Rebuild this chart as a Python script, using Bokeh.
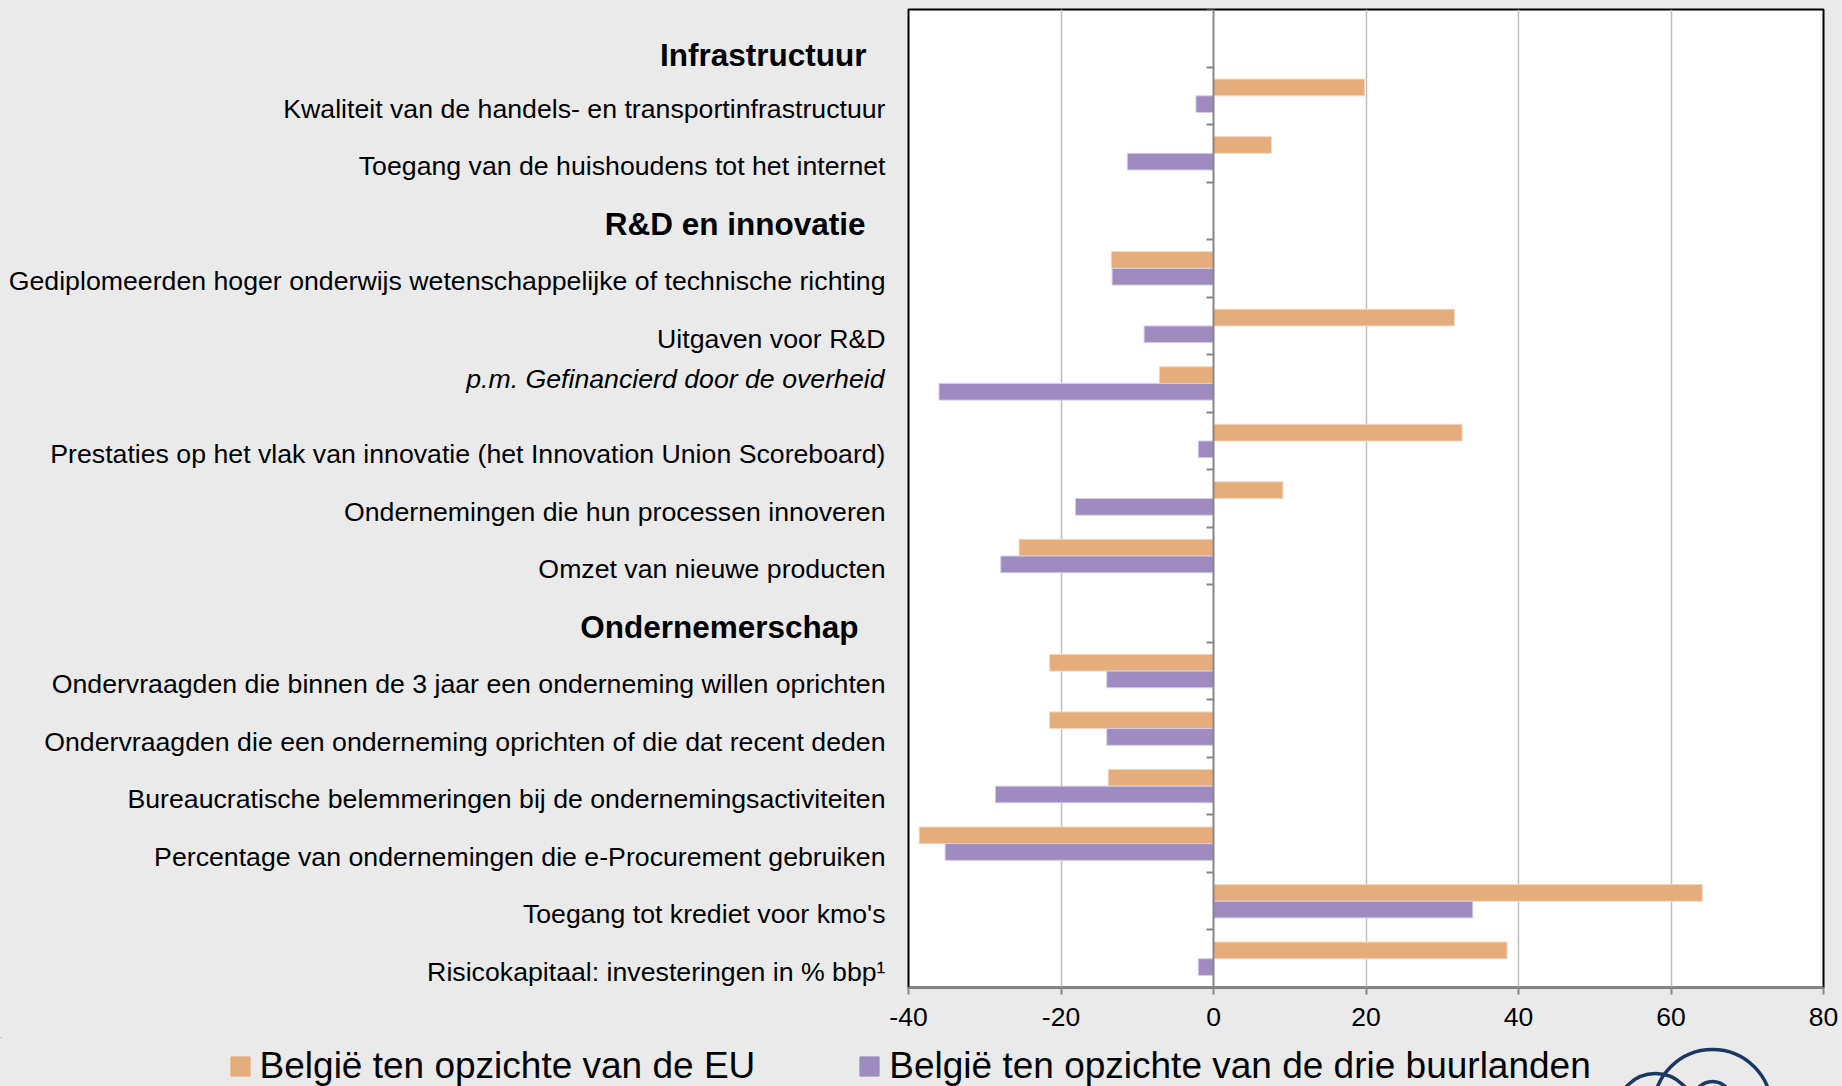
from bokeh.plotting import figure
from bokeh.layouts import column, row
from bokeh.models import (Range1d, FixedTicker, ColumnDataSource, Legend, LegendItem)
from bokeh.core.properties import value
from bokeh.transform import dodge
from bokeh.embed import file_html
from bokeh.resources import INLINE

# ---------------- data ----------------
rows = [
    "Infrastructuur",
    "Kwaliteit van de handels- en transportinfrastructuur",
    "Toegang van de huishoudens tot het internet",
    "R&D en innovatie",
    "Gediplomeerden hoger onderwijs wetenschappelijke of technische richting",
    "Uitgaven voor R&D",
    "p.m. Gefinancierd door de overheid",
    "Prestaties op het vlak van innovatie (het Innovation Union Scoreboard)",
    "Ondernemingen die hun processen innoveren",
    "Omzet van nieuwe producten",
    "Ondernemerschap",
    "Ondervraagden die binnen de 3 jaar een onderneming willen oprichten",
    "Ondervraagden die een onderneming oprichten of die dat recent deden",
    "Bureaucratische belemmeringen bij de ondernemingsactiviteiten",
    "Percentage van ondernemingen die e-Procurement gebruiken",
    "Toegang tot krediet voor kmo's",
    "Risicokapitaal: investeringen in % bbp\u00b9",
]
headers = ["Infrastructuur", "R&D en innovatie", "Ondernemerschap"]
italic_rows = ["p.m. Gefinancierd door de overheid"]
indicators = [r for r in rows if r not in headers]

eu_values = [19.8, 7.6, -13.4, 31.6, -7.1, 32.6, 9.1, -25.5, -21.5, -21.5, -13.8, -38.6, 64.1, 38.5]
nb_values = [-2.3, -11.3, -13.3, -9.1, -36.0, -2.0, -18.1, -27.9, -14.0, -14.0, -28.6, -35.2, 34.0, -2.0]

series_names = ["Belgi\u00eb ten opzichte van de EU", "Belgi\u00eb ten opzichte van de drie buurlanden"]
x_ticks = [-40, -20, 0, 20, 40, 60, 80]
x_tick_labels = ["-40", "-20", "0", "20", "40", "60", "80"]

# ---------------- styles ----------------
ORANGE = "#E4AD7B"
PURPLE = "#9E8BBF"
BG = "#EAEAEA"
AXIS_GREY = "#878787"
NAVY = "#1B3764"
FONT = "Liberation Sans"
# per-header text nudges (screen px): horizontal, vertical
header_style = {"Infrastructuur": (-20, 17), "R&D en innovatie": (-21, 13),
                "Ondernemerschap": (-28, 13)}

n = len(rows)
slot = {r: n - 0.5 - i for i, r in enumerate(rows)}   # top row first
y_range = Range1d(0, n)

TOP, FRAME_H, BOTTOM = 9, 978, 50
LABEL_W, GAP_L, FRAME_W, RIGHT = 886, 22, 915, 19
BG_STYLE = {"background-color": BG}

# ---------------- chart ----------------
p = figure(
    x_range=Range1d(x_ticks[0], x_ticks[-1]), y_range=y_range,
    frame_width=FRAME_W, frame_height=FRAME_H,
    min_border_left=GAP_L, min_border_right=RIGHT, min_border_top=TOP, min_border_bottom=BOTTOM,
    output_backend="svg", toolbar_location=None,
)
p.background_fill_color = "white"
p.border_fill_color = BG
p.outline_line_color = "black"
p.outline_line_width = 2

p.ygrid.visible = False
p.xgrid.ticker = FixedTicker(ticks=[t for t in x_ticks if t != 0])
p.xgrid.grid_line_color = "#BFBFBF"
p.xgrid.grid_line_width = 1.5

xa = p.xaxis[0]
xa.ticker = FixedTicker(ticks=x_ticks)
xa.major_label_overrides = {t: l for t, l in zip(x_ticks, x_tick_labels)}
xa.major_label_text_font = FONT
xa.major_label_text_font_size = "26.5px"
xa.major_label_text_color = "black"
xa.major_label_standoff = 13
xa.axis_line_color = AXIS_GREY
xa.axis_line_width = 2
xa.major_tick_line_color = AXIS_GREY
xa.major_tick_line_width = 2
xa.major_tick_out = 7
xa.major_tick_in = 0
xa.minor_tick_line_color = None

ya = p.yaxis[0]
ya.fixed_location = 0
ya.ticker = FixedTicker(ticks=list(range(n + 1)))
ya.major_label_overrides = {i: "" for i in range(n + 1)}
ya.major_label_standoff = 0
ya.axis_line_color = AXIS_GREY
ya.axis_line_width = 2
ya.major_tick_line_color = AXIS_GREY
ya.major_tick_line_width = 2
ya.major_tick_out = 7
ya.major_tick_in = 0
ya.minor_tick_line_color = None

src = ColumnDataSource(dict(y=[slot[r] for r in indicators], eu=eu_values, nb=nb_values))
p.hbar(y=dodge("y", 0.145), left=0, right="eu", height=0.29, source=src,
       fill_color=ORANGE, line_color="#F3D6BD", line_width=1)
p.hbar(y=dodge("y", -0.145), left=0, right="nb", height=0.29, source=src,
       fill_color=PURPLE, line_color="#D6CDE6", line_width=1)

# ---------------- row labels (left panel) ----------------
lab = figure(
    x_range=Range1d(0, 1), y_range=y_range,
    frame_width=LABEL_W, frame_height=FRAME_H,
    min_border_left=0, min_border_right=0, min_border_top=TOP, min_border_bottom=BOTTOM,
    output_backend="svg", toolbar_location=None,
    x_axis_location=None, y_axis_location=None,
)
lab.background_fill_color = BG
lab.border_fill_color = BG
lab.outline_line_color = None
lab.grid.visible = False

normal = [r for r in indicators if r not in italic_rows]
lab.text(x=1, y="y", text="t",
         source=ColumnDataSource(dict(y=[slot[r] for r in normal], t=normal)),
         x_offset=-1, y_offset=13, text_align="right", text_baseline="middle",
         text_font=value(FONT), text_font_size=value("26.7px"), text_color="black")
lab.text(x=1, y="y", text="t",
         source=ColumnDataSource(dict(y=[slot[r] for r in italic_rows], t=italic_rows)),
         x_offset=-2, y_offset=-4, text_align="right", text_baseline="middle",
         text_font=value(FONT), text_font_size=value("26.7px"), text_font_style="italic",
         text_color="black")
lab.text(x=1, y="y", text="t",
         source=ColumnDataSource(dict(y=[slot[r] for r in headers], t=headers,
                                      dx=[header_style[h][0] for h in headers],
                                      dy=[header_style[h][1] for h in headers])),
         x_offset="dx", y_offset="dy", text_align="right", text_baseline="middle",
         text_font=value(FONT), text_font_size=value("31.5px"), text_font_style="bold",
         text_color="black")

# ---------------- legend strip ----------------
LEG_W, LEG_H = LABEL_W + GAP_L + FRAME_W + RIGHT, 49
leg = figure(
    x_range=Range1d(0, LEG_W), y_range=Range1d(LEG_H, 0),
    frame_width=LEG_W, frame_height=LEG_H, min_border=0,
    output_backend="svg", toolbar_location=None,
    x_axis_location=None, y_axis_location=None,
)
leg.background_fill_color = BG
leg.border_fill_color = BG
leg.outline_line_color = None
leg.grid.visible = False
# legend keys: renderers sitting outside the visible strip, only their style is used
k_eu = leg.hbar(y=[-100], left=[0], right=[1], height=1, fill_color=ORANGE, line_color=ORANGE)
k_nb = leg.hbar(y=[-100], left=[0], right=[1], height=1, fill_color=PURPLE, line_color=PURPLE)
legend = Legend(items=[LegendItem(label=series_names[0], renderers=[k_eu]),
                       LegendItem(label=series_names[1], renderers=[k_nb])],
                orientation="horizontal", location=(227.6, -1),
                glyph_width=24, glyph_height=24, label_standoff=8, spacing=102,
                padding=0, margin=0, background_fill_alpha=0, border_line_color=None,
                label_text_font=FONT, label_text_font_size="37px", label_text_color="black")
leg.add_layout(legend, "center")

# decorative logo (partially visible circles, bottom right)
leg.scatter(x=[1712, 1655, 1712], y=[71, 75, 63], size=[118, 78, 38], marker="circle",
            fill_color=None, line_color=NAVY, line_width=3.5)

layout = column(row(lab, p, styles=BG_STYLE), leg, styles=BG_STYLE)
open("out.html", "w").write(file_html(layout, INLINE))
